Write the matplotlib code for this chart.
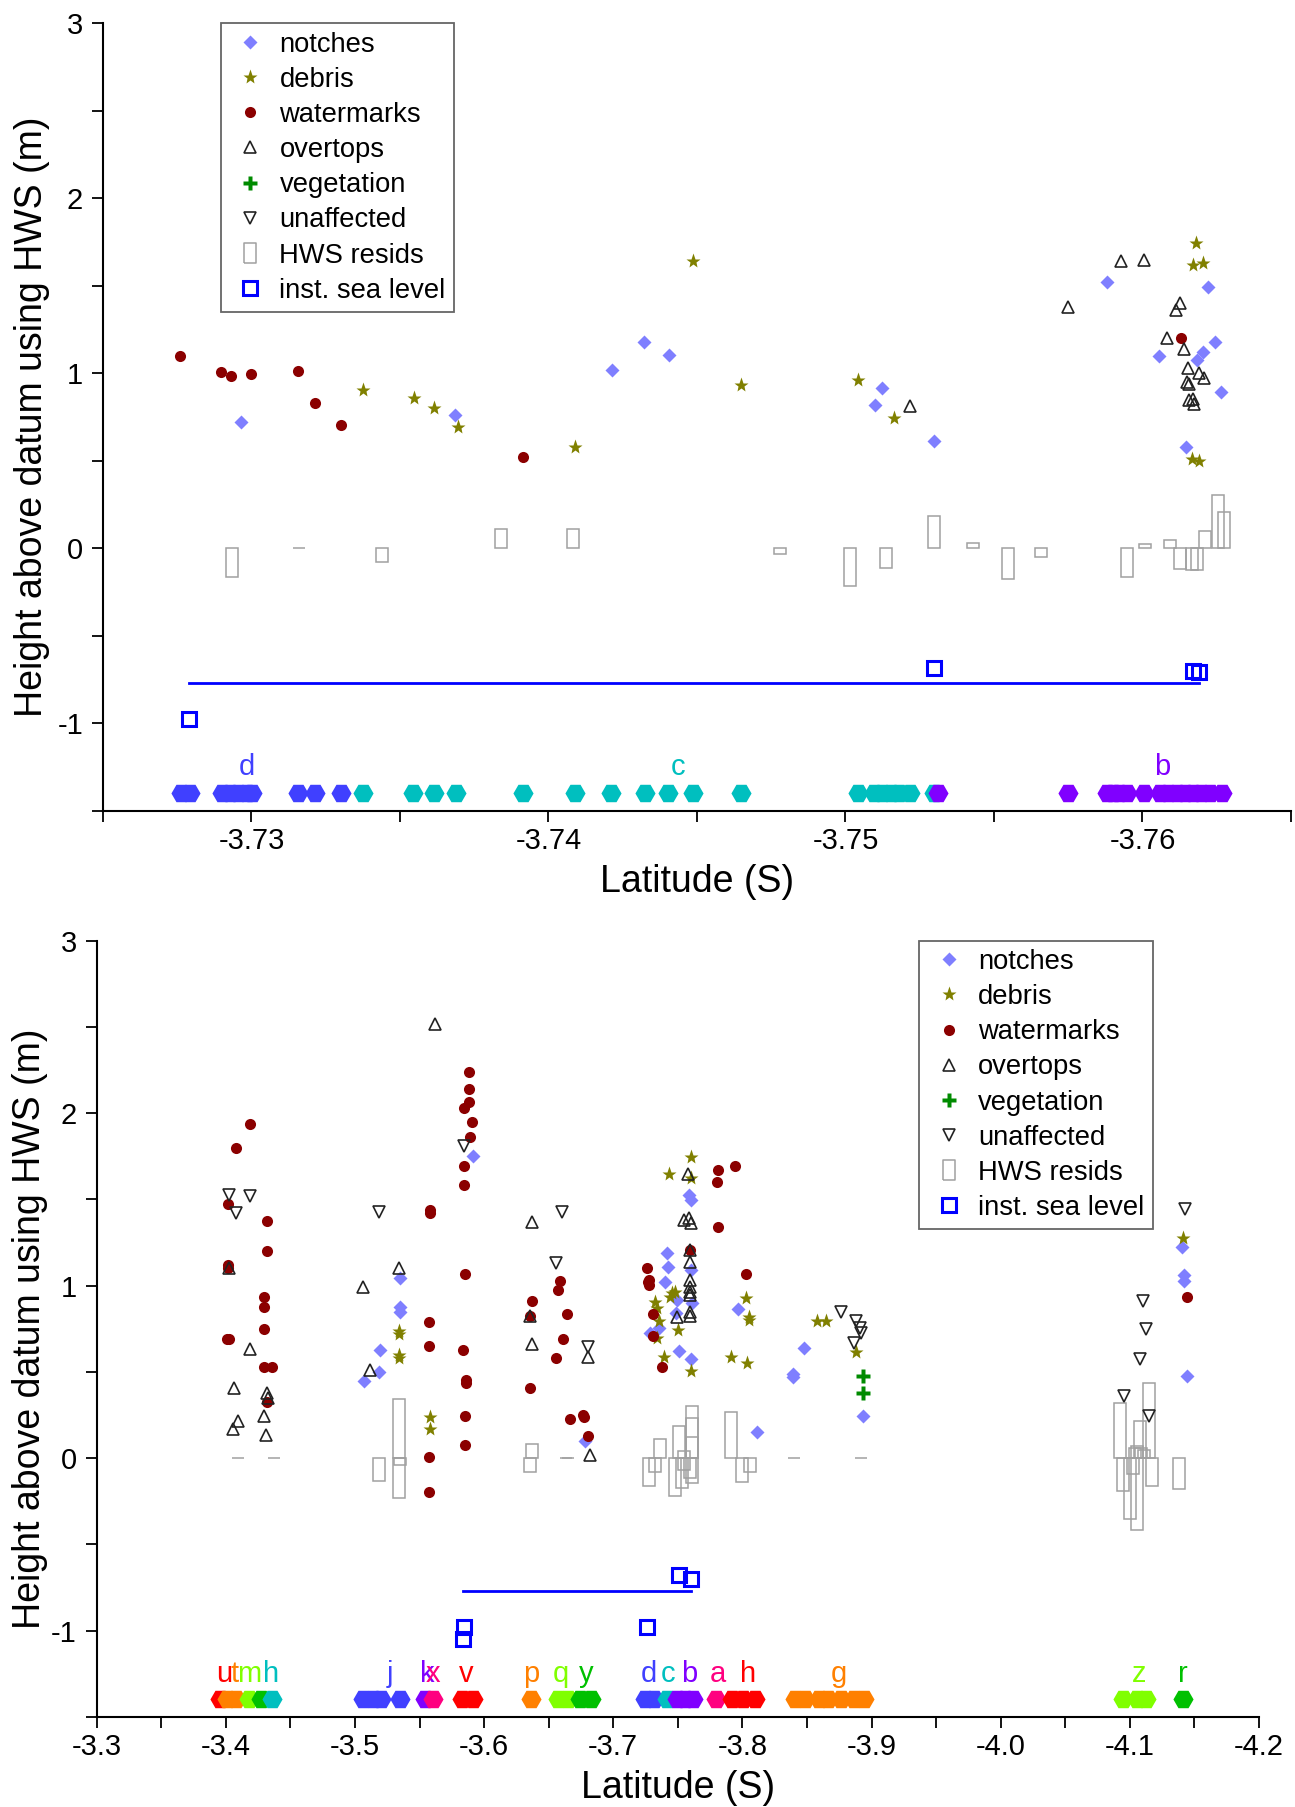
import numpy as np
import matplotlib
matplotlib.use("Agg")
import matplotlib.pyplot as plt
from matplotlib.lines import Line2D

plt.rcParams['font.family'] = ['Liberation Sans', 'DejaVu Sans']

# ---------------- top panel (segments d, c, b) ----------------
top_notch_lat = [-3.72965, -3.73685, -3.74215, -3.74321, -3.74405, -3.75099, -3.75122, -3.75297,
                 -3.75879, -3.76056, -3.76147, -3.76182, -3.76203, -3.76222, -3.76243, -3.76264]
top_notch_h = [0.723, 0.760, 1.018, 1.182, 1.104, 0.822, 0.918, 0.615,
               1.520, 1.101, 0.581, 1.076, 1.120, 1.495, 1.180, 0.895]

top_debris_lat = [-3.73375, -3.73547, -3.73616, -3.73696, -3.74091, -3.74488, -3.74649, -3.75041,
                  -3.75163, -3.76171, -3.76181, -3.76203, -3.76168, -3.76191]
top_debris_h = [0.905, 0.861, 0.800, 0.695, 0.581, 1.642, 0.933, 0.961,
                0.743, 1.619, 1.743, 1.628, 0.510, 0.502]

top_wm_lat = [-3.72760, -3.72897, -3.72932, -3.72999, -3.73158, -3.73214, -3.73301, -3.73915, -3.76130]
top_wm_h = [1.099, 1.009, 0.984, 0.995, 1.013, 0.832, 0.704, 0.523, 1.200]

top_over_lat = [-3.75218, -3.75750, -3.75927, -3.76005, -3.76125, -3.76113, -3.76081, -3.76139,
                -3.76154, -3.76189, -3.76206, -3.76150, -3.76156, -3.76157, -3.76171, -3.76175]
top_over_h = [0.813, 1.380, 1.641, 1.647, 1.400, 1.361, 1.200, 1.137,
              1.028, 1.000, 0.974, 0.952, 0.940, 0.847, 0.856, 0.824]

top_veg_lat = []
top_veg_h = []
top_unaff_lat = []
top_unaff_h = []

top_resid_lat = [-3.72936, -3.73159, -3.73438, -3.73841, -3.74084, -3.74779, -3.75015, -3.75135,
                 -3.75298, -3.75431, -3.75546, -3.75658, -3.75948, -3.76010, -3.76091, -3.76125,
                 -3.76166, -3.76185, -3.76210, -3.76254, -3.76273]
top_resid = [-0.161, 0.0, -0.078, 0.109, 0.109, -0.034, -0.215, -0.114,
             0.184, 0.029, -0.177, -0.047, -0.161, 0.023, 0.046, -0.116,
             -0.124, -0.124, 0.099, 0.305, 0.207]

top_sea_lat = [-3.72791, -3.75298, -3.76170, -3.76191]
top_sea_h = [-0.974, -0.683, -0.699, -0.704]
top_sea_line = -0.771

top_seg_names = ['d', 'c', 'b']
top_seg_label_lat = [-3.72986, -3.74435, -3.76066]
top_hex_lat = [-3.72763, -3.72793, -3.72900, -3.72928, -3.72956, -3.72984, -3.73001, -3.73158,
               -3.73214, -3.73301,
               -3.73375, -3.73545, -3.73616, -3.73689, -3.73915, -3.74089, -3.74212, -3.74324,
               -3.74404, -3.74486, -3.74649, -3.75041, -3.75097, -3.75124, -3.75152, -3.75180,
               -3.75217, -3.75297,
               -3.75311, -3.75748, -3.75879, -3.75900, -3.75921, -3.75948, -3.76004, -3.76059,
               -3.76087, -3.76115, -3.76142, -3.76170, -3.76198, -3.76226, -3.76267]
top_hex_seg = [0] * 10 + [1] * 18 + [2] * 15

# ---------------- bottom panel (all segments) ----------------
bot_notch_lat = [-3.53450, -3.53494, -3.53494, -3.51953, -3.51890, -3.50668, -3.59108, -3.67843,
                 -3.75827, -3.75988, -3.74162, -3.74224, -3.73999, -3.76051, -3.76082, -3.74959,
                 -3.74866, -3.73519, -3.72845, -3.75122, -3.75988, -3.79651, -3.81130,
                 -3.84785, -3.83949, -3.83949, -3.89316,
                 -4.14033, -4.14196, -4.14196, -4.14420]
bot_notch_h = [1.043, 0.878, 0.849, 0.627, 0.501, 0.449, 1.752, 0.101,
               1.526, 1.497, 1.188, 1.107, 1.023, 1.091, 0.898, 0.917,
               0.840, 0.753, 0.728, 0.621, 0.575, 0.863, 0.150,
               0.637, 0.488, 0.469, 0.246,
               1.223, 1.062, 1.028, 0.478]

bot_debris_lat = [-3.5339, -3.5339, -3.5339, -3.5339, -3.55810, -3.55810,
                  -3.73232, -3.73418, -3.73504, -3.73418, -3.73906, -3.74316, -3.74386, -3.74549,
                  -3.74774, -3.75029, -3.75988, -3.75988, -3.75988, -3.79132, -3.80256, -3.80480,
                  -3.80480, -3.80356,
                  -3.85777, -3.86490, -3.88827,
                  -4.14095]
bot_debris_h = [0.738, 0.722, 0.598, 0.582, 0.241, 0.169,
                0.907, 0.869, 0.797, 0.695, 0.588, 1.646, 0.936, 0.956,
                0.965, 0.743, 1.744, 1.623, 0.507, 0.585, 0.930, 0.820,
                0.801, 0.554,
                0.795, 0.795, 0.617,
                1.275]

bot_wm_lat = [-3.41840, -3.40779, -3.40167, -3.43218, -3.43156, -3.40198, -3.40129, -3.42932,
              -3.42932, -3.42932, -3.40105, -3.40245, -3.42932, -3.43605, -3.43218,
              -3.5581, -3.5581, -3.5574, -3.5574, -3.5574, -3.5574,
              -3.58791, -3.58791, -3.58791, -3.58460, -3.59046, -3.58884, -3.58403, -3.58403,
              -3.58535, -3.58373, -3.58628, -3.58628, -3.58535, -3.58535,
              -3.65853, -3.65690, -3.63669, -3.63544, -3.66433, -3.66078, -3.65597, -3.63544,
              -3.66658, -3.67618, -3.67711, -3.68036,
              -3.78080, -3.79427, -3.78010, -3.78080, -3.75926, -3.72620, -3.72770, -3.72720,
              -3.72770, -3.80256, -3.73039, -3.73100, -3.73743,
              -4.14451]
bot_wm_h = [1.937, 1.797, 1.472, 1.377, 1.203, 1.120, 1.100, 0.936,
            0.875, 0.747, 0.689, 0.692, 0.527, 0.527, 0.324,
            1.439, 1.420, 0.791, 0.652, 0.005, -0.198,
            2.241, 2.139, 2.067, 2.028, 1.951, 1.864, 1.694, 1.584,
            1.068, 0.627, 0.453, 0.434, 0.246, 0.077,
            1.027, 0.975, 0.913, 0.826, 0.834, 0.689, 0.583, 0.407,
            0.225, 0.250, 0.241, 0.129,
            1.671, 1.696, 1.599, 1.338, 1.207, 1.101, 1.033, 1.023,
            1.004, 1.068, 0.834, 0.710, 0.527,
            0.933]

bot_over_lat = [-3.40268, -3.41871, -3.40617, -3.43218, -3.43250, -3.40911, -3.40586, -3.42993,
                -3.43125,
                -3.50606, -3.53394, -3.51179, -3.56158,
                -3.63669, -3.63544, -3.63669, -3.68036, -3.68199,
                -3.75757, -3.75508, -3.75827, -3.75988, -3.75926, -3.75926, -3.75910, -3.75910,
                -3.75910, -3.75910, -3.75910, -3.75910, -3.74959]
bot_over_h = [1.104, 0.633, 0.405, 0.376, 0.350, 0.217, 0.167, 0.246,
              0.134,
              0.994, 1.101, 0.511, 2.517,
              1.367, 0.826, 0.660, 0.585, 0.018,
              1.646, 1.381, 1.391, 1.362, 1.207, 1.139, 1.033, 0.994,
              0.965, 0.946, 0.846, 0.826, 0.820]

bot_veg_lat = [-3.89316, -3.89316]
bot_veg_h = [0.476, 0.380]

bot_unaff_lat = [-3.40237, -3.41840, -3.40779, -3.51822, -3.58403, -3.66046, -3.65535, -3.68036,
                 -3.87644, -3.88766, -3.89092, -3.89216, -3.88603,
                 -4.14289, -4.11044, -4.11269, -4.10758, -4.09542, -4.11462]
bot_unaff_h = [1.526, 1.520, 1.420, 1.429, 1.812, 1.425, 1.130, 0.643,
               0.849, 0.795, 0.753, 0.724, 0.670,
               1.443, 0.911, 0.749, 0.575, 0.361, 0.246]

bot_resid_lat = [-3.40911, -3.43698,
                 -3.51853, -3.53409, -3.53409, -3.53450,
                 -3.63707, -3.63580, -3.66370, -3.66500,
                 -3.72767, -3.73620, -3.73201, -3.74803, -3.75122, -3.75345, -3.75500, -3.75500,
                 -3.76058, -3.76058, -3.76058, -3.76058, -3.75950, -3.79118, -3.80000, -3.80585,
                 -3.84019, -3.89153,
                 -4.09264, -4.09458, -4.09996, -4.10270, -4.10579, -4.10773, -4.11462, -4.11683,
                 -4.10380, -4.10580, -4.10850, -4.11100, -4.13776]
bot_resid = [0.0, 0.0,
             -0.130, 0.341, -0.229, -0.040,
             0.083, -0.077, 0.0, 0.0,
             -0.159, 0.110, -0.077, -0.217, 0.187, -0.174, 0.040, -0.070,
             0.304, 0.236, 0.125, -0.141, -0.112, 0.266, -0.140, -0.077,
             0.0, 0.0,
             0.318, -0.188, -0.354, -0.090, -0.416, 0.217, 0.438, -0.159,
             0.060, 0.070, 0.060, 0.050, -0.180]

bot_sea_lat = [-3.58474, -3.58373, -3.72597, -3.75090, -3.75988]
bot_sea_h = [-0.977, -1.050, -0.977, -0.677, -0.700]
bot_sea_line = -0.768

bot_seg_names = ['u', 't', 'm', '', 'h', 'j', 'k', 'x', 'v', 'p', 'q', 'y', 'd', 'c', 'b', 'a', 'h', 'g', 'z', 'r']
bot_seg_label_lat = [-3.3985, -3.4065, -3.4178, np.nan, -3.4354, -3.5269, -3.5558, -3.5607, -3.5863,
                     -3.6367, -3.6591, -3.6794, -3.7275, -3.7428, -3.7587, -3.7810, -3.8043,
                     -3.8750, -4.1075, -4.1410]
bot_hex_lat = [-3.39525, -3.40105, -3.40748, -3.41778, -3.42738, -3.43543,
               -3.50606, -3.51403, -3.52046, -3.53494, -3.55422, -3.56065, -3.58310, -3.59108,
               -3.63607, -3.65690, -3.66495, -3.67455, -3.68261,
               -3.72434, -3.73163, -3.74123, -3.74913, -3.75556, -3.76190, -3.77940,
               -3.79218, -3.80016, -3.80968,
               -3.84044, -3.84842, -3.85957, -3.86592, -3.87657, -3.88610, -3.89408,
               -4.09472, -4.10587, -4.11230, -4.14095]
bot_hex_seg = [0, 1, 1, 2, 3, 4,
               5, 5, 5, 5, 6, 7, 8, 8,
               9, 10, 10, 11, 11,
               12, 12, 13, 14, 14, 14, 15,
               16, 16, 16,
               17, 17, 17, 17, 17, 17, 17,
               18, 18, 18, 19]

# ---------------- styles ----------------
RED, ORANGE, LIME, GREEN = '#ff0000', '#ff8000', '#80ff00', '#00c000'
TEAL, BLUE, PURPLE, PINK = '#00bfbf', '#4040ff', '#8000ff', '#ff0080'
top_seg_colors = [BLUE, TEAL, PURPLE]
bot_seg_colors = [RED, ORANGE, LIME, GREEN, TEAL, BLUE, PURPLE, PINK, RED, ORANGE, LIME, GREEN,
                  BLUE, TEAL, PURPLE, PINK, RED, ORANGE, LIME, GREEN]

C_NOTCH = '#7f7fff'
C_DEBRIS = '#808000'
C_WM = '#8b0000'
C_VEG = '#008b00'
C_RESID = '#a0a0a0'
C_SEA = '#0000ff'
C_OPEN = '#222222'

HEX_Y = -1.398
LABEL_Y = -1.295
RESID_PX = 12
FIG_W, FIG_H = 1295, 1807

rect_marker = [(-0.3, -0.5), (0.3, -0.5), (0.3, 0.5), (-0.3, 0.5), (-0.3, -0.5)]

MK = {
    'notch': dict(marker='D', color=C_NOTCH, ms=6.8, mec='none'),
    'debris': dict(marker='*', color=C_DEBRIS, ms=11, mec='none'),
    'wm': dict(marker='o', color=C_WM, ms=8, mec='none'),
    'over': dict(marker='^', mfc='none', mec=C_OPEN, mew=1.2, ms=9),
    'veg': dict(marker='P', color=C_VEG, ms=10, mec='none'),
    'unaff': dict(marker='v', mfc='none', mec=C_OPEN, mew=1.2, ms=8),
    'resid': dict(marker=rect_marker, mfc='none', mec=C_RESID, mew=1.1, ms=15),
    'sea': dict(marker='s', mfc='none', mec=C_SEA, mew=2.2, ms=10),
}

fig = plt.figure(figsize=(FIG_W / 100, FIG_H / 100), dpi=100)
ax1 = fig.add_axes([0.0795, 0.5512, 0.9174, 0.4359])
ax2 = fig.add_axes([0.07467, 0.04981, 0.89753, 0.4296])


def draw_panel(ax, xlim, xticks, xlabels, notch, debris, wm, over, veg, unaff,
               resid, sea, sea_line, hexes, seg_names, seg_lat, seg_colors, leg_anchor):
    ax.set_xlim(*xlim)
    ax.set_ylim(-1.5, 3)
    ax_w = FIG_W * ax.get_position().width
    w = RESID_PX * abs(xlim[1] - xlim[0]) / ax_w

    # segment hexagons and letters
    for lat, s in zip(*hexes):
        ax.plot(lat, HEX_Y, 'H', color=seg_colors[s], ms=14.5, mec='none', zorder=2)
    for name, lat, col in zip(seg_names, seg_lat, seg_colors):
        if name:
            ax.text(lat, LABEL_Y, name, color=col, fontsize=21, ha='center', va='baseline')

    # HWS residual boxes
    ax.bar(resid[0], resid[1], width=w, bottom=0, fill=False, edgecolor=C_RESID,
           linewidth=1.1, zorder=3)

    # instantaneous sea level
    ax.plot([max(sea[0]), min(sea[0])], [sea_line, sea_line], color=C_SEA, lw=2.0, zorder=3)
    ax.plot(sea[0], sea[1], ls='none', zorder=4, **MK['sea'])

    ax.plot(notch[0], notch[1], ls='none', zorder=5, **MK['notch'])
    ax.plot(debris[0], debris[1], ls='none', zorder=5, **MK['debris'])
    ax.plot(wm[0], wm[1], ls='none', zorder=5, **MK['wm'])
    ax.plot(over[0], over[1], ls='none', zorder=6, **MK['over'])
    ax.plot(veg[0], veg[1], ls='none', zorder=6, **MK['veg'])
    ax.plot(unaff[0], unaff[1], ls='none', zorder=6, **MK['unaff'])

    keys = ['notch', 'debris', 'wm', 'over', 'veg', 'unaff', 'resid', 'sea']
    handles = [Line2D([], [], ls='none', **MK[k]) for k in keys]
    labels = ['notches', 'debris', 'watermarks', 'overtops', 'vegetation', 'unaffected',
              'HWS resids', 'inst. sea level']
    leg = ax.legend(handles, labels, loc='upper left', bbox_to_anchor=leg_anchor,
                    bbox_transform=fig.transFigure, fontsize=19.7, frameon=True,
                    fancybox=False, framealpha=1, edgecolor='#666666', borderpad=0.3,
                    handlelength=1.55, handletextpad=0.3, labelspacing=0.335,
                    borderaxespad=0)
    leg.get_frame().set_linewidth(1.3)

    # R-like axes
    for side in ('top', 'right'):
        ax.spines[side].set_visible(False)
    for side in ('left', 'bottom'):
        ax.spines[side].set_linewidth(1.5)
    ax.set_xticks(xticks)
    ax.set_xticklabels(xlabels)
    yt = np.arange(-1.5, 3.01, 0.5)
    ax.set_yticks(yt)
    ax.set_yticklabels(['' if abs(v - round(v)) > 1e-6 else '%d' % round(v) for v in yt])
    ax.tick_params(axis='both', direction='out', length=7.8, width=1.3, labelsize=21)
    ax.tick_params(axis='x', pad=4)
    ax.tick_params(axis='y', pad=6.5)
    ax.set_xlabel('Latitude (S)', fontsize=27, labelpad=6)
    ax.set_ylabel('Height above datum using HWS (m)', fontsize=27)


top_xt = [-3.725, -3.73, -3.735, -3.74, -3.745, -3.75, -3.755, -3.76, -3.765]
top_xl = ['', '-3.73', '', '-3.74', '', '-3.75', '', '-3.76', '']
draw_panel(ax1, (-3.725, -3.765), top_xt, top_xl,
           (top_notch_lat, top_notch_h), (top_debris_lat, top_debris_h),
           (top_wm_lat, top_wm_h), (top_over_lat, top_over_h),
           (top_veg_lat, top_veg_h), (top_unaff_lat, top_unaff_h),
           (top_resid_lat, top_resid), (top_sea_lat, top_sea_h), top_sea_line,
           (top_hex_lat, top_hex_seg), top_seg_names, top_seg_label_lat, top_seg_colors,
           (220.6 / FIG_W, 1 - 23.3 / FIG_H))
ax1.yaxis.set_label_coords(-0.0446, 0.5)

bot_xt = list(np.round(np.arange(-3.3, -4.2001, -0.05), 2))
bot_xl = ['%.1f' % v if abs(v * 10 - round(v * 10)) < 1e-6 else '' for v in bot_xt]
draw_panel(ax2, (-3.3, -4.2), bot_xt, bot_xl,
           (bot_notch_lat, bot_notch_h), (bot_debris_lat, bot_debris_h),
           (bot_wm_lat, bot_wm_h), (bot_over_lat, bot_over_h),
           (bot_veg_lat, bot_veg_h), (bot_unaff_lat, bot_unaff_h),
           (bot_resid_lat, bot_resid), (bot_sea_lat, bot_sea_h), bot_sea_line,
           (bot_hex_lat, bot_hex_seg), bot_seg_names, bot_seg_label_lat, bot_seg_colors,
           (919.4 / FIG_W, 1 - 940.7 / FIG_H))
ax2.yaxis.set_label_coords(-0.0419, 0.5)

fig.savefig('out.png', dpi=100)
